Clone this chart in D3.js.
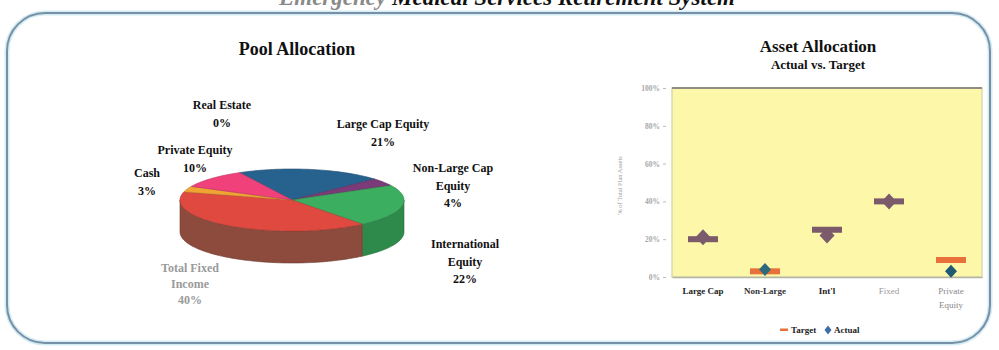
<!DOCTYPE html>
<html>
<head>
<meta charset="utf-8">
<script src="https://cdn.jsdelivr.net/npm/d3@7"></script>
<style>
  html, body { margin: 0; padding: 0; background: #ffffff; }
  svg { display: block; }
</style>
</head>
<body>
<svg id="chart" width="999" height="350"></svg>
<script>
// ---- Pool allocation (pie) ----
const poolNames   = ["Large Cap Equity", "Non-Large Cap Equity", "International Equity",
                     "Total Fixed Income", "Cash", "Private Equity", "Real Estate"];
const poolValues  = [21, 4, 22, 40, 3, 10, 0];
const poolLabels  = [["Large Cap Equity", "21%"], ["Non-Large Cap", "Equity", "4%"],
                     ["International", "Equity", "22%"], ["Total Fixed", "Income", "40%"],
                     ["Cash", "3%"], ["Private Equity", "10%"], ["Real Estate", "0%"]];

// ---- Asset allocation: actual vs. target ----
const assetCategories = ["Large Cap", "Non-Large", "Int'l", "Fixed", "Private Equity"];
const targetValues    = [20, 3, 25, 40, 9];
const actualValues    = [21, 4, 22, 40, 3];
const yTickValues     = [0, 20, 40, 60, 80, 100];
const yTickLabels     = ["0%", "20%", "40%", "60%", "80%", "100%"];

// ---- styles ----
const serif = "'Liberation Serif', 'Times New Roman', serif";
const topColors  = ["#27628f", "#7a3b78", "#3bae5f", "#e0493f", "#f0a533", "#f0417a", "#c9a0c0"];
const sideColors = ["#1b4668", "#552956", "#2e8a4b", "#8c4b3c", "#b77a22", "#b22f5a", "#9a7890"];
const labelFills = ["#111", "#111", "#111", "#9a9a9a", "#111", "#111", "#111"];
// label placement relative to the pie centre (first line centre)
const labelOffset = [[91, -76], [161, -32], [173, 44], [-102, 68], [-145, -27], [-97, -50], [-70, -95]];
const labelStep   = [17.5, 17.5, 17.5, 16, 17.5, 17.5, 17.5];
const xLabelFills = ["#222", "#333", "#222", "#9a9a9a", "#888"];
const targetColor = "#e8703a", actualColor = "#3d6ea6", blendColor = "#7b5a6b";
const blendedCats = new Set(["Large Cap", "Int'l", "Fixed"]);

const svg = d3.select("#chart");
svg.append("rect").attr("width", 999).attr("height", 350).attr("fill", "#fff");

// page title, running off the top edge
const title = svg.append("text").attr("x", 735).attr("y", 5).attr("text-anchor", "end")
  .attr("font-family", serif).attr("font-weight", "bold").attr("font-style", "italic")
  .attr("font-size", 23);
title.append("tspan").attr("fill", "#8a8a8a").text("Emergency ");
title.append("tspan").attr("fill", "#111").text("Medical Services Retirement System");

// rounded frame
svg.append("rect").attr("x", 7).attr("y", 13).attr("width", 983).attr("height", 330)
  .attr("rx", 38).attr("ry", 38).attr("fill", "none")
  .attr("stroke", "#d6ecf4").attr("stroke-width", 5);
svg.append("rect").attr("x", 7).attr("y", 13).attr("width", 983).attr("height", 330)
  .attr("rx", 38).attr("ry", 38).attr("fill", "none")
  .attr("stroke", "#7890a6").attr("stroke-width", 2);

// ================= 3-D pie =================
svg.append("text").attr("x", 297).attr("y", 55).attr("text-anchor", "middle")
  .attr("font-family", serif).attr("font-weight", "bold").attr("font-size", 18)
  .attr("fill", "#111").text("Pool Allocation");

const cx = 292, cy = 200, rx = 112, ry = 31, depth = 32;
const rim = (t, dy = 0) => [cx + rx * Math.sin(t), cy - ry * Math.cos(t) + dy];
const deg = Math.PI / 180;
const pie = d3.pie().sort(null).startAngle(-28 * deg).endAngle(332 * deg);
const arcs = pie(poolValues).map((d, i) => ({ ...d, i }));
const line = d3.line();
const samples = (a, b, dy) => {
  const n = Math.max(2, Math.ceil((b - a) / (2 * deg)));
  return d3.range(n + 1).map(k => rim(a + (b - a) * k / n, dy));
};

// side walls of the front half
const gSide = svg.append("g");
arcs.forEach(d => {
  const lo = Math.max(d.startAngle, Math.PI / 2), hi = Math.min(d.endAngle, 3 * Math.PI / 2);
  if (hi <= lo) return;
  const pts = samples(lo, hi, 0).concat(samples(lo, hi, depth).reverse());
  gSide.append("path").attr("d", line(pts) + "Z")
    .attr("fill", sideColors[d.i]).attr("stroke", d3.color(sideColors[d.i]).darker(0.6))
    .attr("stroke-width", 0.6);
});

// top faces
const gTop = svg.append("g");
arcs.forEach(d => {
  if (d.endAngle - d.startAngle <= 0) return;
  const pts = [[cx, cy]].concat(samples(d.startAngle, d.endAngle, 0));
  gTop.append("path").attr("d", line(pts) + "Z")
    .attr("fill", topColors[d.i]).attr("stroke", d3.color(topColors[d.i]).darker(0.7))
    .attr("stroke-width", 0.6);
});

// slice labels
const gLab = svg.append("g").attr("font-family", serif).attr("font-weight", "bold")
  .attr("font-size", 12).attr("text-anchor", "middle");
poolLabels.forEach((lines, i) => {
  const t = gLab.append("text").attr("fill", labelFills[i]);
  lines.forEach((s, k) => t.append("tspan")
    .attr("x", cx + labelOffset[i][0])
    .attr("y", cy + labelOffset[i][1] + 4 + k * labelStep[i]).text(s));
});

// ================= Actual vs. target =================
svg.append("text").attr("x", 818).attr("y", 52).attr("text-anchor", "middle")
  .attr("font-family", serif).attr("font-weight", "bold").attr("font-size", 17)
  .attr("fill", "#111").text("Asset Allocation");
svg.append("text").attr("x", 818).attr("y", 69).attr("text-anchor", "middle")
  .attr("font-family", serif).attr("font-weight", "bold").attr("font-size", 13)
  .attr("fill", "#111").text("Actual vs. Target");

const plot = { left: 672, right: 982, top: 88, bottom: 277 };
const x = d3.scaleBand().domain(assetCategories).range([plot.left, plot.right]);
const y = d3.scaleLinear().domain([0, 100]).range([plot.bottom, plot.top]);

svg.append("rect").attr("x", plot.left).attr("y", plot.top)
  .attr("width", plot.right - plot.left).attr("height", plot.bottom - plot.top)
  .attr("fill", "#fdf8a9").attr("stroke", "#d6dcb0").attr("stroke-width", 1.5);
svg.append("line").attr("x1", plot.left).attr("x2", plot.right)
  .attr("y1", plot.top).attr("y2", plot.top).attr("stroke", "#8e8f82").attr("stroke-width", 2);

const yAxis = svg.append("g").attr("transform", `translate(${plot.left - 6},0)`)
  .call(d3.axisLeft(y).tickValues(yTickValues).tickSize(3).tickPadding(3)
    .tickFormat((d, i) => yTickLabels[i]));
yAxis.select(".domain").remove();
yAxis.selectAll("line").attr("stroke", "#bbb");
yAxis.selectAll("text").attr("font-family", serif).attr("font-size", 7.5)
  .attr("font-weight", "bold").attr("fill", "#a8a8a8");

svg.append("text").attr("transform", `translate(622,${(plot.top + plot.bottom) / 2 + 3}) rotate(-90)`)
  .attr("text-anchor", "middle").attr("font-family", serif).attr("font-size", 6.5)
  .attr("fill", "#9a9a9a").text("% of Total Plan Assets");

const xAxis = svg.append("g").attr("transform", `translate(0,${plot.bottom})`)
  .call(d3.axisBottom(x).tickSize(0).tickPadding(12).tickFormat(() => ""));
xAxis.select(".domain").attr("stroke", "#b5b5a0").attr("stroke-width", 1.5);
assetCategories.forEach((c, i) => {
  const words = c === "Private Equity" ? ["Private", "Equity"] : [c];
  const t = svg.append("text").attr("text-anchor", "middle").attr("font-family", serif)
    .attr("font-size", 9).attr("font-weight", i < 3 ? "bold" : "normal").attr("fill", xLabelFills[i]);
  words.forEach((w, k) => t.append("tspan").attr("x", x(c) + x.bandwidth() / 2)
    .attr("y", plot.bottom + 17 + k * 14).text(w));
});

// markers
const gMarks = svg.append("g");
const diamond = (cxp, cyp, w, h) =>
  `M${cxp},${cyp - h / 2}L${cxp + w / 2},${cyp}L${cxp},${cyp + h / 2}L${cxp - w / 2},${cyp}Z`;
assetCategories.forEach((c, i) => {
  const mx = x(c) + x.bandwidth() / 2;
  const blended = blendedCats.has(c);
  gMarks.append("rect").attr("x", mx - 15).attr("y", y(targetValues[i]) - 3)
    .attr("width", 30).attr("height", 6)
    .attr("fill", blended ? blendColor : targetColor);
  gMarks.append("path").attr("d", diamond(mx, y(actualValues[i]), blended ? 15 : 12, blended ? 16 : 13))
    .attr("fill", blended ? blendColor : (i === 4 ? "#1f5a72" : "#2c6a7c"));
});

// legend
const lg = svg.append("g").attr("font-family", serif).attr("font-size", 9).attr("font-weight", "bold");
lg.append("rect").attr("x", 780).attr("y", 328.5).attr("width", 8).attr("height", 2.5).attr("fill", targetColor);
lg.append("text").attr("x", 791).attr("y", 333).attr("fill", "#222").text("Target");
lg.append("path").attr("d", diamond(828, 330, 7, 9)).attr("fill", actualColor);
lg.append("text").attr("x", 834).attr("y", 333).attr("fill", "#222").text("Actual");
</script>
</body>
</html>
